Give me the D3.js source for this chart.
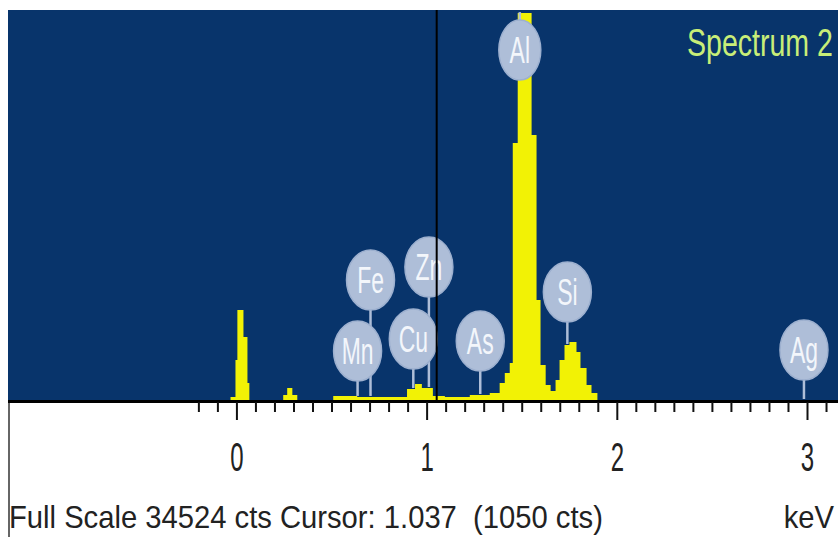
<!DOCTYPE html>
<html>
<head>
<meta charset="utf-8">
<script src="https://cdn.jsdelivr.net/npm/d3@7"></script>
<style>
  body { margin: 0; background: #fff; }
  svg { display: block; font-family: "Liberation Sans", Arial, sans-serif; }
</style>
</head>
<body>
<svg id="chart" width="838" height="537"></svg>
<script>
// spectrum: left edge of each step (keV) and its counts
const spectrumKeV = [-1.2, -0.031, -0.005, 0.005, 0.037, 0.058, 0.068, 0.246, 0.267, 0.294,
  0.320, 0.509, 0.635, 0.897, 0.939, 0.975, 1.033, 1.096, 1.227, 1.332,
  1.384, 1.411, 1.437, 1.453, 1.479, 1.552, 1.578, 1.599, 1.626, 1.652,
  1.678, 1.699, 1.725, 1.751, 1.788, 1.809, 1.841, 1.867, 1.898, 3.2]
const spectrumCts = [0, 270, 3540, 7970, 5580, 1500, 0, 440, 1060, 440,
  0, 350, 270, 970, 1420, 1060, 350, 270, 440, 620,
  1500, 2390, 3280, 22750, 34250, 23460, 8850, 3100, 1330, 800,
  1770, 3540, 4870, 5130, 4250, 2830, 1330, 620, 0, 0]

// element markers: line energy and the count level the marker sits at
const elements = ['Mn', 'Fe', 'Zn', 'Cu', 'As', 'Al', 'Si', 'Ag']
const elementKeV = [0.637, 0.705, 1.012, 0.930, 1.282, 1.490, 1.740, 2.984]
const elementLevel = [4340, 10620, 11770, 5400, 5220, 30975, 9560, 4425]

const majorTicks = [0, 1, 2, 3]
const minorTicks = d3.range(-2, 32).map(i => i / 10).filter(v => !Number.isInteger(v))

const fullScale = 34524
const cursorKeV = 1.053
const titleText = 'Spectrum 2'
const footerText = 'Full Scale 34524 cts Cursor: 1.037  (1050 cts)'
const unitText = 'keV'

const blue = '#08346b'
const yellow = '#f2f205'
const marker = '#aebed8'

const svg = d3.select('#chart')
const plotLeft = 8, plotTop = 10, plotRight = 838, plotBase = 400

const x = d3.scaleLinear().domain([-1.201, 3.163]).range([plotLeft, plotRight])
const y = d3.scaleLinear().domain([0, fullScale]).range([plotBase, plotTop])

svg.append('defs').append('clipPath').attr('id', 'plot')
	.append('rect').attr('x', plotLeft).attr('y', plotTop)
	.attr('width', plotRight - plotLeft).attr('height', plotBase - plotTop)

svg.append('rect')
	.attr('x', plotLeft).attr('y', plotTop)
	.attr('width', plotRight - plotLeft).attr('height', plotBase - plotTop)
	.attr('fill', blue)

const spectrum = spectrumKeV.map((k, i) => ({ k, c: spectrumCts[i] }))

const area = d3.area()
	.curve(d3.curveStepAfter)
	.x(d => x(d.k))
	.y0(plotBase)
	.y1(d => y(d.c))

const plot = svg.append('g').attr('clip-path', 'url(#plot)')

plot.append('path')
	.datum(spectrum)
	.attr('d', area)
	.attr('fill', yellow)

// counts under a marker, to know where its stem ends
const ctsAt = k => {
	const i = d3.bisectRight(spectrumKeV, k) - 1
	return spectrumCts[Math.max(0, i)]
}

const labels = elements.map((el, i) => ({ el, k: elementKeV[i], lvl: elementLevel[i] }))

plot.selectAll('line.stem')
	.data(labels)
	.enter()
	.append('line')
	.attr('class', 'stem')
	.attr('x1', d => x(d.k)).attr('x2', d => x(d.k))
	.attr('y1', d => y(d.lvl)).attr('y2', d => y(ctsAt(d.k)) - 1)
	.attr('stroke', marker)
	.attr('stroke-width', 2.5)

plot.selectAll('ellipse')
	.data(labels)
	.enter()
	.append('ellipse')
	.attr('cx', d => x(d.k))
	.attr('cy', d => y(d.lvl))
	.attr('rx', d => d.el === 'Al' ? 21 : 24)
	.attr('ry', 30)
	.attr('fill', marker)
	.attr('stroke', '#9db0cf')
	.attr('stroke-width', 1.5)

plot.selectAll('text.el')
	.data(labels)
	.enter()
	.append('text')
	.attr('class', 'el')
	.attr('transform', d => `translate(${x(d.k)},${y(d.lvl) + 13}) scale(0.62,1)`)
	.attr('text-anchor', 'middle')
	.attr('font-size', 37)
	.attr('fill', '#f3f6fb')
	.text(d => d.el)

// cursor sits on top of the markers
plot.append('line')
	.attr('x1', x(cursorKeV)).attr('x2', x(cursorKeV))
	.attr('y1', plotTop).attr('y2', plotBase)
	.attr('stroke', '#000')
	.attr('stroke-width', 2)

const title = svg.append('text')
	.attr('x', 0).attr('y', 0)
	.attr('font-size', 38)
	.attr('fill', '#c8ee78')
	.text(titleText)
const tw = title.node().getComputedTextLength()
title.attr('transform', `translate(${833 - 146},56) scale(${146 / tw},1)`)

// axis
svg.append('line')
	.attr('x1', plotLeft).attr('x2', plotRight)
	.attr('y1', plotBase + 1.5).attr('y2', plotBase + 1.5)
	.attr('stroke', '#000')
	.attr('stroke-width', 3)

const minorAxis = svg.append('g')
	.attr('transform', `translate(0,${plotBase + 2})`)
	.call(d3.axisBottom(x).tickValues(minorTicks).tickSize(10).tickFormat(''))
minorAxis.select('.domain').remove()
minorAxis.selectAll('line').attr('stroke', '#111').attr('stroke-width', 2)

const majorAxis = svg.append('g')
	.attr('transform', `translate(0,${plotBase + 2})`)
	.call(d3.axisBottom(x).tickValues(majorTicks).tickSize(18).tickFormat(d3.format('d')))
majorAxis.select('.domain').remove()
majorAxis.selectAll('line').attr('stroke', '#111').attr('stroke-width', 2)
majorAxis.selectAll('text')
	.attr('y', 0).attr('dy', null)
	.attr('transform', 'translate(0,69) scale(0.6,1)')
	.attr('font-size', 40)
	.attr('font-family', '"Liberation Sans", Arial, sans-serif')
	.attr('fill', '#222')

svg.append('line')
	.attr('x1', 9).attr('x2', 9)
	.attr('y1', plotBase + 3).attr('y2', 537)
	.attr('stroke', '#333')
	.attr('stroke-width', 1.5)

const footer = svg.append('text')
	.attr('font-size', 32)
	.attr('fill', '#222')
	.style('white-space', 'pre')
	.text(footerText)
const fw = footer.node().getComputedTextLength()
const fs = 594 / fw
footer.attr('transform', `translate(9,528) scale(${fs},1)`)

svg.append('text')
	.attr('font-size', 32)
	.attr('fill', '#222')
	.attr('text-anchor', 'end')
	.attr('transform', `translate(834,528) scale(${fs},1)`)
	.text(unitText)
</script>
</body>
</html>
